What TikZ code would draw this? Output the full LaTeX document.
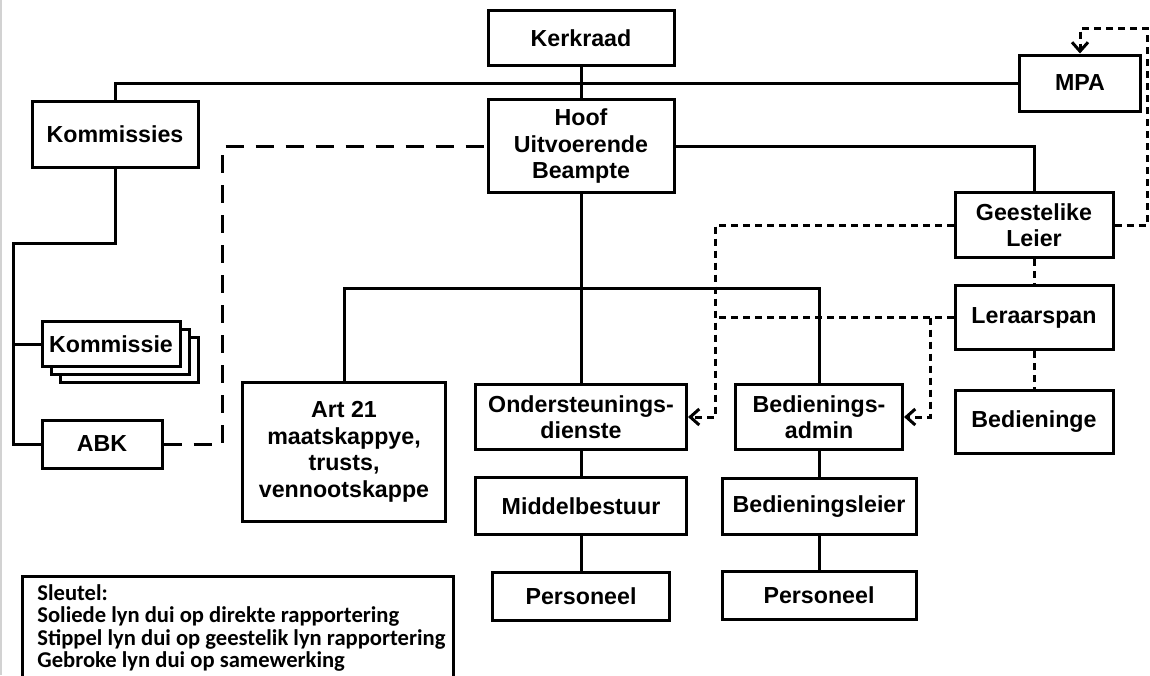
\documentclass[tikz,border=0pt]{standalone}
\usepackage{fontspec}
\setmainfont{Liberation Sans}
\newfontfamily\keyfont{Carlito}
\usepackage{tikz}
\usetikzlibrary{positioning}
\usetikzlibrary{shadows}
\usetikzlibrary{arrows.meta}
\begin{document}
\begin{tikzpicture}[x=0.5pt, y=-0.5pt]
      \tikzstyle{box} =  [draw, fill=white, line width=1.5pt, inner sep=0pt, align=center, font=\bfseries\fontsize{11.6}{13.25}\selectfont]
      \tikzstyle{direct} =  [line width=1.5pt]
      \tikzstyle{spiritual} =  [line width=1.5pt, dash pattern=on 3.5pt off 2.5pt, -{Straight Barb[length=4.5pt, width=8pt]}]
      \tikzstyle{spiritualline} =  [line width=1.5pt, dash pattern=on 3.5pt off 2.5pt]
      \tikzstyle{teamwork} =  [line width=1.5pt, dash pattern=on 9pt off 6pt]

      \useasboundingbox (0,0) rectangle (1150,675);
      \fill[white] (0,0) rectangle (1150,675);
      \draw[gray!35, line width=1.2pt] (1,0) -- (1,675);

      \node (kerkraad) [box, minimum width=93pt, minimum height=27.5pt] at (581,38) {Kerkraad};
      \node (hoof) [box, minimum width=93pt, minimum height=46.5pt] at (581,146) {Hoof\\Uitvoerende\\Beampte};
      \node (mpa) [box, minimum width=60.5pt, minimum height=28pt] at (1080,83) {MPA};
      \node (kommissies) [box, minimum width=83pt, minimum height=33pt] at (115,134) {Kommissies};
      \node (kommissie) [box, minimum width=69pt, minimum height=22.5pt, double copy shadow={shadow xshift=4.5pt, shadow yshift=-4pt}] at (111,344) {Kommissie};
      \node (abk) [box, minimum width=60pt, minimum height=24pt] at (102,444) {ABK};

      \node (art) [box, minimum width=101.5pt, minimum height=69.5pt] at (344,452) {Art 21\\maatskappye,\\trusts,\\vennootskappe};
      \node (ondersteuning) [box, minimum width=105.5pt, minimum height=32.5pt] at (581,417) {Ondersteunings-\\dienste};
      \node (middelbestuur) [box, minimum width=105.5pt, minimum height=28.5pt, below=12.5pt of ondersteuning] {Middelbestuur};
      \node (personeelA) [box, minimum width=88.5pt, minimum height=24pt, below=17.5pt of middelbestuur] {Personeel};

      \node (bedieningsadmin) [box, minimum width=83.5pt, minimum height=32.5pt] at (819,417) {Bedienings-\\admin};
      \node (bedieningsleier) [box, minimum width=97pt, minimum height=28pt, below=13pt of bedieningsadmin] {Bedieningsleier};
      \node (personeelB) [box, minimum width=97pt, minimum height=24pt, below=17pt of bedieningsleier] {Personeel};

      \node (geestelike) [box, minimum width=79pt, minimum height=32.5pt] at (1034,225) {Geestelike\\Leier};
      \node (leraarspan) [box, minimum width=79pt, minimum height=32pt, below=12.5pt of geestelike] {Leraarspan};
      \node (bedieninge) [box, minimum width=79pt, minimum height=31.5pt, below=19pt of leraarspan] {Bedieninge};

      \coordinate (split) at (581,288);
      \coordinate (spine) at (13,243);
      \coordinate (abkbend) at (222,146);
      \coordinate (loop) at (1147,28);
      \coordinate (leftdrop) at (715,417);
      \coordinate (rightdrop) at (930,417);

      \draw[direct] (kerkraad) -- (hoof);
      \draw[direct] (kommissies.north) |- (mpa.west);
      \draw[direct] (hoof.east) -| (geestelike.north);
      \draw[direct] (hoof.south) -- (ondersteuning.north);
      \draw[direct] (art.north) |- (split) -| (bedieningsadmin.north);
      \draw[direct] (ondersteuning) -- (middelbestuur);
      \draw[direct] (middelbestuur) -- (personeelA);
      \draw[direct] (bedieningsadmin) -- (bedieningsleier);
      \draw[direct] (bedieningsleier) -- (personeelB);
      \draw[direct] (kommissies.south) |- (spine) |- (abk.west);
      \draw[direct] (spine |- kommissie.west) -- (kommissie.west);

      \draw[teamwork] (abk.east) -| (abkbend) -- (hoof.west);

      \draw[spiritual] (geestelike.west) -| (leftdrop) -- (ondersteuning.east);
      \draw[spiritualline] (leraarspan.west) -- (leraarspan.west -| leftdrop);
      \draw[spiritual] (rightdrop |- leraarspan.west) -- (rightdrop) -- (bedieningsadmin.east);
      \draw[spiritualline] (geestelike) -- (leraarspan);
      \draw[spiritualline] (leraarspan) -- (bedieninge);
      \draw[spiritual] (geestelike.east) -| (loop) -| (mpa.north);

      \draw[line width=1.5pt] (22,677) |- (453,576) -- (453,677);
      \node (key) [anchor=north west, inner sep=0pt, align=left, font=\keyfont\bfseries\fontsize{11.3}{11.25}\selectfont] at (37,584) {Sleutel:\\Soliede lyn dui op direkte rapportering\\Stippel lyn dui op geestelik lyn rapportering\\Gebroke lyn dui op samewerking};
    \end{tikzpicture}
\end{document}
